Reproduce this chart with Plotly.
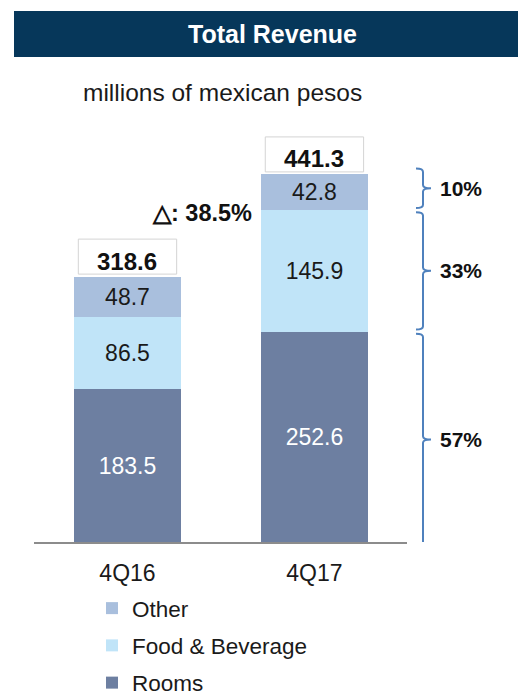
import plotly.graph_objects as go

W, H = 518, 696

# ---- data ----
categories = ["4Q16", "4Q17"]
rooms = [183.5, 252.6]
food_bev = [86.5, 145.9]
other = [48.7, 42.8]
totals = [318.6, 441.3]
series_names = ["Rooms", "Food & Beverage", "Other"]
series_colors = ["#6D7FA1", "#C0E4F8", "#A9BFDD"]
legend_ranks = [3, 2, 1]

FONT = "Liberation Sans, Arial, sans-serif"

def px(x):
    return x / W

def py(y):
    return 1 - y / H

fig = go.Figure()
for name, vals, col, rk in zip(series_names, [rooms, food_bev, other], series_colors, legend_ranks):
    fig.add_trace(go.Bar(
        x=categories, y=vals, name=name, legendgroup=name, legendrank=rk,
        marker=dict(color=col, line=dict(width=0)),
        width=0.572,
        text=[f"{v:.1f}" for v in vals],
        textposition="inside", insidetextanchor="middle",
        constraintext="none",
        textfont=dict(size=23, family=FONT,
                      color="white" if name == "Rooms" else "#1a1a1a"),
        hoverinfo="skip",
    ))

shapes = []
annotations = []

# title bar
shapes.append(dict(type="rect", xref="paper", yref="paper",
                   x0=px(14), x1=1, y0=py(57), y1=py(11),
                   fillcolor="#06375A", line=dict(width=0), layer="below"))
annotations.append(dict(xref="paper", yref="paper", x=px(272), y=py(34),
                        text="<b>Total Revenue</b>", showarrow=False,
                        font=dict(size=25, color="white", family=FONT),
                        xanchor="center", yanchor="middle"))
annotations.append(dict(xref="paper", yref="paper", x=px(222), y=py(93),
                        text="millions of mexican pesos", showarrow=False,
                        font=dict(size=24.5, color="#1a1a1a", family=FONT),
                        xanchor="center", yanchor="middle"))

# total boxes and labels
for i, (c, t) in enumerate(zip(categories, totals)):
    shapes.append(dict(type="rect", xref="x", yref="y",
                       x0=i - 0.263, x1=i + 0.263, y0=t + 3, y1=t + 45,
                       fillcolor="white", line=dict(color="#D4D4D4", width=1)))
    annotations.append(dict(xref="x", yref="y", x=c, y=t, yanchor="bottom",
                            text=f"<b>{t:.1f}</b>", showarrow=False, yshift=0,
                            font=dict(size=24, color="#111111", family=FONT)))

# growth
growth = (totals[1] / totals[0] - 1) * 100
annotations.append(dict(xref="paper", yref="paper", x=px(202), y=py(213),
                        text=f"<b>△: {growth:.1f}%</b>", showarrow=False,
                        font=dict(size=23.5, color="#111111", family=FONT),
                        xanchor="center", yanchor="middle"))

# brackets for 4Q17 composition
segs = [rooms[1], food_bev[1], other[1]]
cum = [0, segs[0], segs[0] + segs[1], totals[1]]
bounds = [cum[0] - 4, cum[1], cum[2], cum[3] + 7]
gap = 2.5
xv, xh, xt = px(423), px(416), px(431)
r = 4
for k in range(3):
    lo = bounds[k] + (0 if k == 0 else gap)
    hi = bounds[k + 1] - (0 if k == 2 else gap)
    mid = (lo + hi) / 2
    path = (f"M {xh},{hi} Q {xv},{hi} {xv},{hi - r} L {xv},{mid + r} "
            f"Q {xv},{mid} {xt},{mid} Q {xv},{mid} {xv},{mid - r} "
            f"L {xv},{lo + r} Q {xv},{lo} {xh},{lo}")
    shapes.append(dict(type="path", xref="paper", yref="y", path=path,
                       line=dict(color="#4F81BD", width=2)))
    pct = segs[k] / totals[1] * 100
    annotations.append(dict(xref="paper", yref="y", x=px(461), y=mid,
                            text=f"<b>{pct:.0f}%</b>", showarrow=False,
                            font=dict(size=21, color="#111111", family=FONT),
                            xanchor="center", yanchor="middle"))

scale = 0.833
fig.update_layout(
    width=W, height=H, autosize=False,
    margin=dict(l=0, r=0, t=0, b=0, autoexpand=False),
    paper_bgcolor="white", plot_bgcolor="white",
    barmode="stack",
    showlegend=True,
    legend=dict(x=px(92), y=py(587), xanchor="left", yanchor="top",
                traceorder="grouped", tracegroupgap=5,
                font=dict(size=22.5, color="#1a1a1a", family=FONT),
                bgcolor="rgba(0,0,0,0)"),
    xaxis=dict(domain=[px(34), px(407)], range=[-0.5, 1.495],
               showline=True, linecolor="#8C8C8C", linewidth=2,
               ticks="", showgrid=False, zeroline=False,
               tickfont=dict(size=23, color="#1a1a1a", family=FONT),
               ticklabelstandoff=9),
    yaxis=dict(domain=[py(542), py(130)], range=[0, 412 / scale],
               visible=False),
    shapes=shapes,
    annotations=annotations,
    hovermode=False,
    font=dict(family=FONT),
)

post = ("document.body.style.margin='0';document.body.style.padding='0';"
        "document.body.style.overflow='hidden';"
        "var gd=document.getElementById('{plot_id}');"
        "gd.style.width='518px';gd.style.height='696px';"
        "Plotly.relayout(gd,{width:518,height:696});")

fig.write_html("out.html", config={"responsive": False, "displayModeBar": False},
               post_script=post)
